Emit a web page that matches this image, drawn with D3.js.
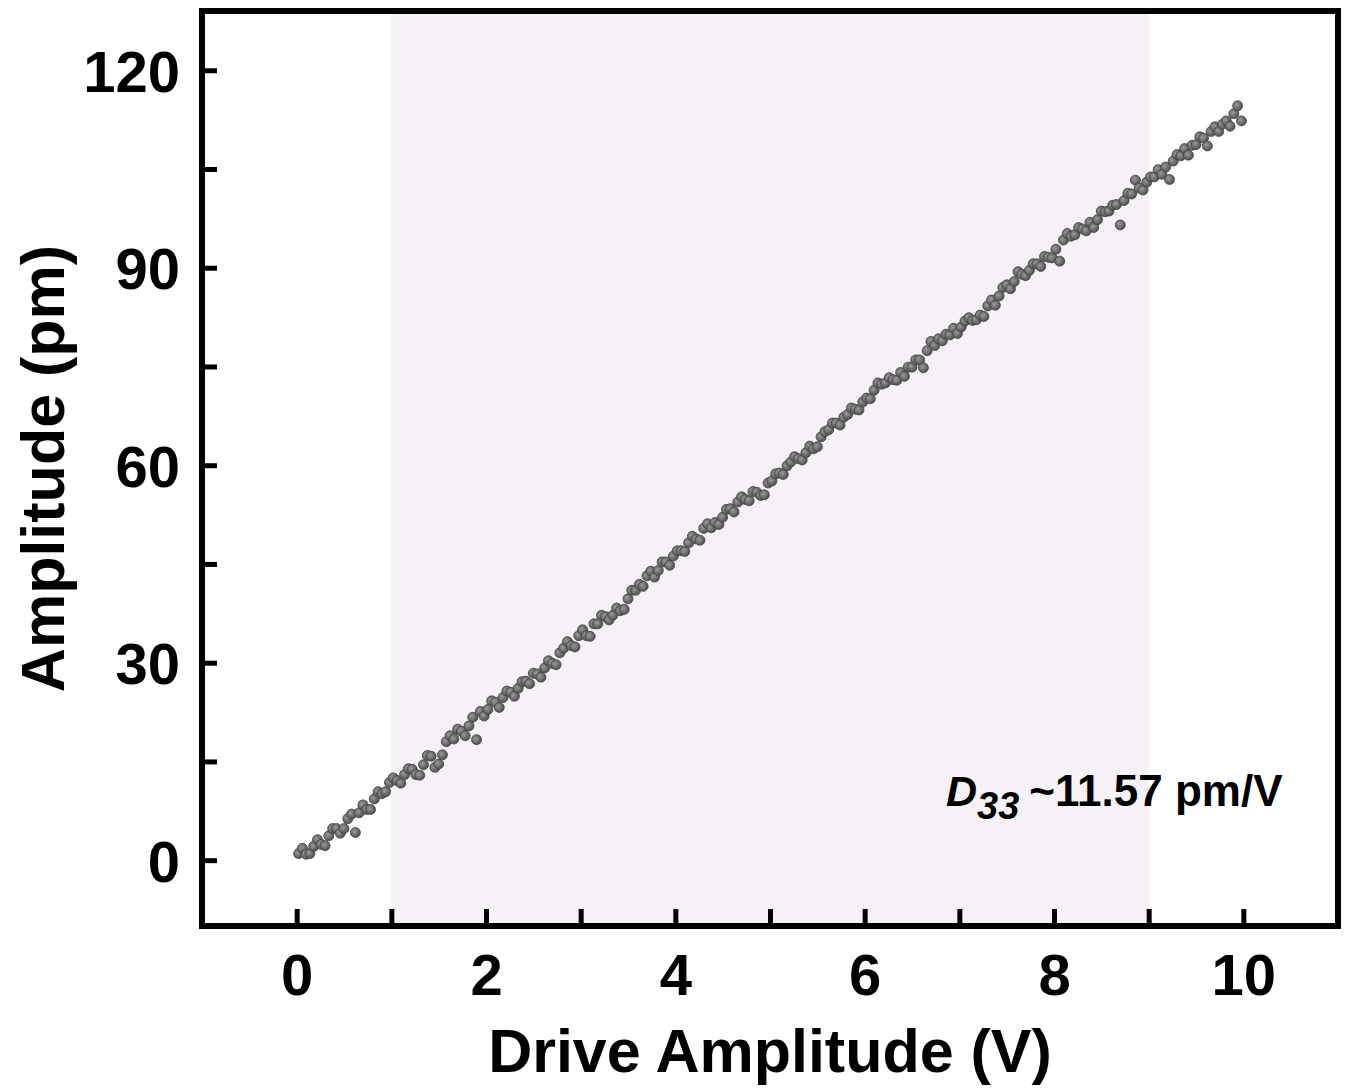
<!DOCTYPE html>
<html lang="en">
<head>
<meta charset="UTF-8">
<title>Drive Amplitude vs Amplitude</title>
<script src="https://d3js.org/d3.v7.min.js"></script>
<style>
    body { margin: 0; background: #fff; }
    svg { display: block; font-family: "Liberation Sans", Arial, sans-serif; }
    .tick-label { font-size: 58px; font-weight: bold; fill: #000; }
    .axis-title { font-size: 61px; font-weight: bold; fill: #000; }
</style>
</head>
<body>
<svg id="chart" width="1346" height="1088"></svg>
<script>
// Drive voltage (V) for each measured point
const driveVoltage = [
    0.02,0.06,0.10,0.14,0.18,0.22,0.26,0.30,0.34,0.38,0.42,0.46,0.50,0.54,0.58,0.62,0.66,0.70,0.74,0.78,0.82,0.86,0.90,0.94,0.98,
    1.02,1.06,1.10,1.14,1.18,1.22,1.26,1.30,1.34,1.38,1.42,1.46,1.50,1.54,1.58,1.62,1.66,1.70,1.74,1.78,1.82,1.86,1.90,1.94,1.98,
    2.02,2.06,2.10,2.14,2.18,2.22,2.26,2.30,2.34,2.38,2.42,2.46,2.50,2.54,2.58,2.62,2.66,2.70,2.74,2.78,2.82,2.86,2.90,2.94,2.98,
    3.02,3.06,3.10,3.14,3.18,3.22,3.26,3.30,3.34,3.38,3.42,3.46,3.50,3.54,3.58,3.62,3.66,3.70,3.74,3.78,3.82,3.86,3.90,3.94,3.98,
    4.02,4.06,4.10,4.14,4.18,4.22,4.26,4.30,4.34,4.38,4.42,4.46,4.50,4.54,4.58,4.62,4.66,4.70,4.74,4.78,4.82,4.86,4.90,4.94,4.98,
    5.02,5.06,5.10,5.14,5.18,5.22,5.26,5.30,5.34,5.38,5.42,5.46,5.50,5.54,5.58,5.62,5.66,5.70,5.74,5.78,5.82,5.86,5.90,5.94,5.98,
    6.02,6.06,6.10,6.14,6.18,6.22,6.26,6.30,6.34,6.38,6.42,6.46,6.50,6.54,6.58,6.62,6.66,6.70,6.74,6.78,6.82,6.86,6.90,6.94,6.98,
    7.02,7.06,7.10,7.14,7.18,7.22,7.26,7.30,7.34,7.38,7.42,7.46,7.50,7.54,7.58,7.62,7.66,7.70,7.74,7.78,7.82,7.86,7.90,7.94,7.98,
    8.02,8.06,8.10,8.14,8.18,8.22,8.26,8.30,8.34,8.38,8.42,8.46,8.50,8.54,8.58,8.62,8.66,8.70,8.74,8.78,8.82,8.86,8.90,8.94,8.98,
    9.02,9.06,9.10,9.14,9.18,9.22,9.26,9.30,9.34,9.38,9.42,9.46,9.50,9.54,9.58,9.62,9.66,9.70,9.74,9.78,9.82,9.86,9.90,9.94,9.98
];

const amplitude = [
    1.0,1.8,0.9,1.0,2.1, 3.1,2.4,2.2,3.7,4.8, 4.8,4.1,4.8,6.3,7.0, 4.2,7.2,8.4,7.7,7.7, 9.3,10.4,10.1,10.4,11.8,
    12.5,12.1,11.7,13.0,13.9, 13.8,13.0,12.9,14.5,15.9, 15.8,14.1,14.6,16.0,18.0, 18.9,18.4,19.9,19.6,18.9, 20.4,21.7,18.3,22.6,21.9,
    22.9,24.2,24.0,23.2,24.7, 25.7,25.5,24.9,26.1,27.1, 27.2,26.8,28.4,28.3,27.8, 29.2,30.3,29.9,29.7,31.5, 32.2,33.2,32.6,32.4,34.1,
    35.0,34.1,34.0,35.9,35.9, 37.2,37.0,36.5,37.2,38.3, 37.9,38.1,39.7,41.0,41.0, 41.9,41.6,43.2,43.9,43.0, 44.0,45.3,45.3,44.8,46.2,
    47.0,47.0,46.9,48.2,49.2, 48.8,48.6,50.4,51.1,50.5, 51.3,51.0,52.1,53.3,53.4, 52.9,54.4,55.2,54.8,54.6, 56.0,55.9,55.4,55.5,57.3,
    57.6,58.7,58.8,58.6,59.9, 60.5,61.3,61.0,60.8,61.9, 62.9,62.5,62.8,64.3,65.1, 65.4,66.4,66.4,66.1,67.3, 67.7,68.7,68.5,68.4,69.6,
    70.2,70.1,71.4,72.5,72.3, 72.5,73.3,73.0,72.9,74.1, 73.5,74.9,74.9,76.0,76.0, 74.8,77.4,78.8,78.2,79.2, 78.9,79.9,79.8,80.8,80.0,
    81.0,81.9,82.4,82.0,82.1, 82.8,82.6,84.2,85.1,84.3, 85.7,87.0,87.4,86.8,87.9, 89.4,89.0,88.8,89.6,90.6, 90.6,90.2,91.7,91.6,91.5,
    92.8,91.0,94.2,95.2,94.8, 95.0,96.1,95.9,95.6,96.9, 96.1,97.3,98.6,98.5,98.6, 99.5,99.6,96.5,100.2,101.3, 101.2,103.3,102.1,101.8,103.0,
    103.8,103.8,104.9,104.2,105.3, 103.4,106.2,107.2,107.0,108.1, 107.1,108.6,108.7,109.9,109.7, 108.5,110.7,111.4,110.7,111.8, 112.3,111.5,113.4,114.6,112.3
];

const xTicks = [0, 1, 2, 3, 4, 5, 6, 7, 8, 9, 10];
const xTickLabels = [0, 2, 4, 6, 8, 10];
const yTicks = [0, 15, 30, 45, 60, 75, 90, 105, 120];
const yTickLabels = [0, 30, 60, 90, 120];
const shadedRange = [1, 9];

const svg = d3.select('#chart');
const plot = { left: 202, right: 1338, top: 11, bottom: 926 };

const x = d3.scaleLinear().domain([-1, 11]).range([plot.left, plot.right]);
const y = d3.scaleLinear().domain([-10, 129]).range([plot.bottom, plot.top]);

// shaded sphere look for the markers
const grad = svg.append('defs').append('radialGradient')
    .attr('id', 'dot')
    .attr('cx', '40%').attr('cy', '40%').attr('r', '60%');
grad.append('stop').attr('offset', '0%').attr('stop-color', '#9a9a9a');
grad.append('stop').attr('offset', '100%').attr('stop-color', '#505050');

// highlighted drive range
svg.append('rect')
    .attr('x', x(shadedRange[0]))
    .attr('y', plot.top)
    .attr('width', x(shadedRange[1]) - x(shadedRange[0]))
    .attr('height', plot.bottom - plot.top)
    .attr('fill', '#f5f1f7');

// data points
const points = driveVoltage.map((v, i) => ({ v: v, a: amplitude[i] }));
svg.append('g')
    .selectAll('circle')
    .data(points)
    .enter().append('circle')
    .attr('cx', d => x(d.v))
    .attr('cy', d => y(d.a))
    .attr('r', 5)
    .attr('fill', 'url(#dot)')
    .attr('stroke', '#444')
    .attr('stroke-width', 0.8);

// axes with inward ticks
const xAxis = d3.axisBottom(x).tickValues(xTicks).tickSize(-17).tickSizeOuter(0)
    .tickFormat(d => xTickLabels.includes(d) ? d : '');
const gx = svg.append('g').attr('transform', `translate(0,${plot.bottom})`).call(xAxis);

const yAxis = d3.axisLeft(y).tickValues(yTicks).tickSize(-15).tickSizeOuter(0)
    .tickFormat(d => yTickLabels.includes(d) ? d : '');
const gy = svg.append('g').attr('transform', `translate(${plot.left},0)`).call(yAxis);

[gx, gy].forEach(g => {
    g.select('.domain').remove();
    g.selectAll('.tick line').attr('stroke', '#000').attr('stroke-width', 5);
    g.selectAll('.tick text').attr('class', 'tick-label').attr('font-family', null).attr('font-size', null);
});
gx.selectAll('.tick text').attr('dy', '0.71em').attr('y', 28);
gy.selectAll('.tick text').attr('x', -22).attr('dy', '0.36em');

// frame
svg.append('rect')
    .attr('x', plot.left)
    .attr('y', plot.top)
    .attr('width', plot.right - plot.left)
    .attr('height', plot.bottom - plot.top)
    .attr('fill', 'none')
    .attr('stroke', '#000')
    .attr('stroke-width', 6);

// axis titles
svg.append('text')
    .attr('class', 'axis-title')
    .attr('x', (plot.left + plot.right) / 2)
    .attr('y', 1072)
    .attr('text-anchor', 'middle')
    .text('Drive Amplitude (V)');

svg.append('text')
    .attr('class', 'axis-title')
    .attr('transform', `translate(64,${(plot.top + plot.bottom) / 2}) rotate(-90)`)
    .attr('text-anchor', 'middle')
    .text('Amplitude (pm)');

// slope annotation
const note = svg.append('text')
    .attr('x', 946)
    .attr('y', 806)
    .attr('font-weight', 'bold')
    .attr('fill', '#000');
note.append('tspan').attr('font-style', 'italic').attr('font-size', 43).text('D');
note.append('tspan').attr('font-style', 'italic').attr('font-size', 38).attr('dy', 13).text('33');
note.append('tspan').attr('font-size', 44).attr('dy', -13).attr('dx', 10).text('~11.57 pm/V');
</script>
</body>
</html>
